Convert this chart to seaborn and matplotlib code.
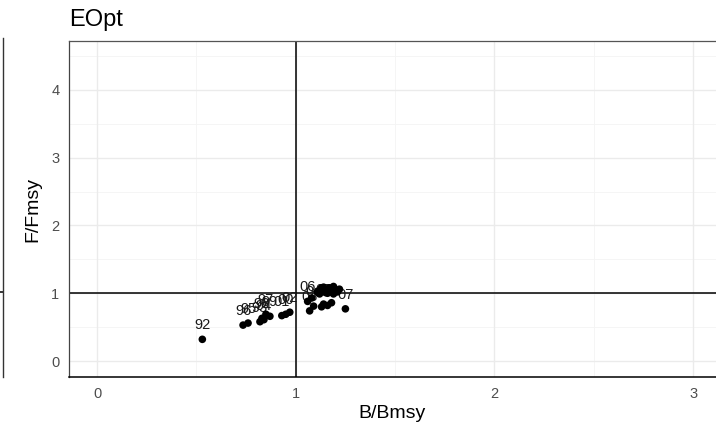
import pandas as pd
import matplotlib
matplotlib.use("Agg")
import matplotlib.pyplot as plt
import seaborn as sns

years = list(range(1970, 2008))
b_bmsy = [1.15, 1.18, 1.20, 1.17, 1.13, 1.11, 1.14, 1.19, 1.22, 1.16,
          1.12, 1.15, 1.19, 1.21, 1.17, 1.13, 1.11, 1.16,
          1.18, 1.16, 1.13, 1.08,
          0.53, 0.82, 0.84, 0.76, 0.735, 0.85, 0.83, 0.87,
          0.95, 0.93, 0.97, 1.07, 1.09, 1.14, 1.06, 1.25]
f_fmsy = [1.05, 1.07, 1.04, 1.02, 1.06, 1.03, 1.09, 1.10, 1.06, 1.00,
          0.99, 1.01, 0.99, 1.02, 1.08, 1.08, 1.01, 1.04,
          0.86, 0.82, 0.80, 0.93,
          0.32, 0.58, 0.61, 0.56, 0.53, 0.69, 0.63, 0.66,
          0.69, 0.67, 0.72, 0.74, 0.81, 0.84, 0.88, 0.77]
first_labelled = 1992
x_ticks = [0, 1, 2, 3]
y_ticks = [0, 1, 2, 3, 4]

df = pd.DataFrame({"year": years, "B": b_bmsy, "F": f_fmsy})
df["lab"] = df["year"].astype(str).str[-2:]

sns.set_style("white")
plt.rcParams["font.family"] = ["Liberation Sans", "DejaVu Sans"]

W, H = 716, 426
fig = plt.figure(figsize=(W / 100, H / 100), dpi=100)
fig.patch.set_facecolor("white")

# main panel (right edge runs to the figure edge)
ax = fig.add_axes([69 / W, (H - 377) / H, (716 - 69) / W, (377 - 41) / H])
ax.set_xlim(-0.141, 3.115)
ax.set_ylim(-0.236, 4.723)

# bit of the neighbouring facet at the left edge
ax0 = fig.add_axes([-300 / W, (H - 377) / H, 303 / W, (377 - 38) / H])
ax0.set_xlim(0, 1)
ax0.set_ylim(-0.236 * 339 / 336, 4.723)
ax0.axhline(1, color="black", lw=1.1)
ax0.set_xticks([])
ax0.set_yticks([])
for s in ["top", "left", "bottom"]:
    ax0.spines[s].set_visible(False)
ax0.spines["right"].set_color("#333333")
ax0.spines["right"].set_linewidth(1.0)

# grid like theme_bw
for v in [0.5, 1.5, 2.5]:
    ax.axvline(v, color="#f4f4f4", lw=0.6, zorder=0)
for v in [0.5, 1.5, 2.5, 3.5, 4.5]:
    ax.axhline(v, color="#f4f4f4", lw=0.6, zorder=0)
for v in x_ticks:
    ax.axvline(v, color="#ebebeb", lw=1.0, zorder=0)
for v in y_ticks:
    ax.axhline(v, color="#ebebeb", lw=1.0, zorder=0)

ax.axhline(1, color="black", lw=1.1, zorder=1)
ax.axvline(1, color="black", lw=1.1, zorder=1)

for _, r in df[df["year"] >= first_labelled].iterrows():
    ax.annotate(r["lab"], (r["B"], r["F"]), xytext=(0, 10), textcoords="offset points",
                ha="center", va="center", fontsize=10.5, color="#1a1a1a", zorder=2)

sns.scatterplot(data=df, x="B", y="F", ax=ax, color="black", s=30,
                edgecolor="none", zorder=3, legend=False)

ax.set_xticks(x_ticks)
ax.set_yticks(y_ticks)
ax.tick_params(axis="both", length=4, width=0.9, color="#333333",
               labelcolor="#4d4d4d", labelsize=10.5, pad=3)
ax.set_xlabel("B/Bmsy", fontsize=14, color="black", labelpad=3)
ax.set_ylabel("F/Fmsy", fontsize=14, color="black", labelpad=7)
ax.set_title("EOpt", loc="left", fontsize=17, color="black", pad=11)

ax.spines["right"].set_visible(False)
ax.spines["top"].set_color("#555555")
ax.spines["top"].set_linewidth(0.9)
ax.spines["left"].set_color("#444444")
ax.spines["left"].set_linewidth(0.9)
ax.spines["bottom"].set_color("black")
ax.spines["bottom"].set_linewidth(1.1)

plt.savefig("out.png", dpi=100)
